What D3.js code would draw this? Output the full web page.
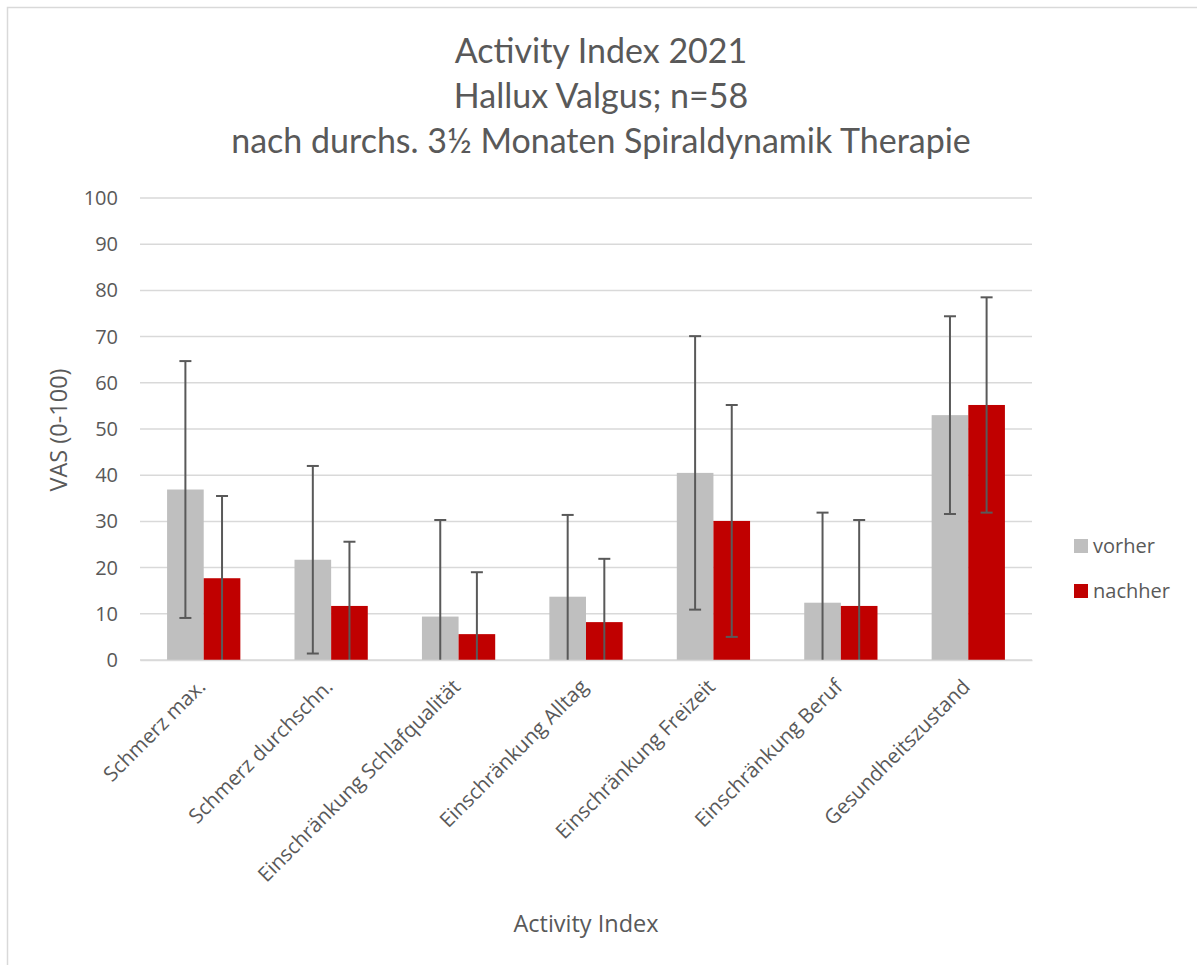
<!DOCTYPE html>
<html>
<head>
<meta charset="utf-8">
<script src="https://cdn.jsdelivr.net/npm/d3@7"></script>
<style>
  body { margin: 0; background: #fff; }
  svg text { fill: #595959; }
  .axis text { font-family: "Open Sans", sans-serif; font-size: 20px; }
  .xlabels text { font-size: 20.5px; }
  .title { font-family: Lato, "Open Sans", sans-serif; font-size: 34px; }
  .axis-title { font-family: "Open Sans", sans-serif; font-size: 23.5px; }
</style>
</head>
<body>
<div id="chart"></div>
<script>
// data
var categories = ['Schmerz max.', 'Schmerz durchschn.', 'Einschränkung Schlafqualität',
  'Einschränkung Alltag', 'Einschränkung Freizeit', 'Einschränkung Beruf', 'Gesundheitszustand'];
var seriesNames = ['vorher', 'nachher'];
var vorher = [36.9, 21.7, 9.4, 13.7, 40.5, 12.4, 53.0];
var vorherSD = [27.8, 20.3, 20.9, 17.7, 29.6, 19.5, 21.4];
var nachher = [17.7, 11.7, 5.6, 8.2, 30.1, 11.7, 55.2];
var nachherSD = [17.8, 13.9, 13.4, 13.7, 25.1, 18.6, 23.3];
var yTicks = [0, 10, 20, 30, 40, 50, 60, 70, 80, 90, 100];
var titleLines = ['Activity Index 2021', 'Hallux Valgus; n=58', 'nach durchs. 3½ Monaten Spiraldynamik Therapie'];
var colors = { vorher: '#bfbfbf', nachher: '#c00000' };

var W = 1197, H = 965;
var margin = { top: 198, right: 165, bottom: 305, left: 140 };
var width = W - margin.left - margin.right;
var height = H - margin.top - margin.bottom;

var svg = d3.select('#chart').append('svg')
  .attr('width', W)
  .attr('height', H);

// chart border
svg.append('rect')
  .attr('x', 7.5).attr('y', 7.5)
  .attr('width', W + 20).attr('height', H + 20)
  .attr('fill', 'none')
  .attr('stroke', '#d9d9d9')
  .attr('stroke-width', 1.5);

// title
svg.append('g').selectAll('text')
  .data(titleLines)
  .enter().append('text')
  .attr('class', 'title')
  .attr('x', 601)
  .attr('y', function(d, i) { return 63 + i * 45; })
  .attr('text-anchor', 'middle')
  .text(function(d) { return d; });

var g = svg.append('g').attr('transform', 'translate(' + margin.left + ',' + margin.top + ')');

var x0 = d3.scaleBand().domain(categories).range([0, width])
  .paddingInner(0.425).paddingOuter(0.2125);
var x1 = d3.scaleBand().domain(seriesNames).range([0, x0.bandwidth()]);
var y = d3.scaleLinear().domain([0, 100]).range([height, 0]).clamp(true);

// gridlines
g.append('g').selectAll('line')
  .data(yTicks)
  .enter().append('line')
  .attr('x1', 0).attr('x2', width)
  .attr('y1', function(d) { return y(d); })
  .attr('y2', function(d) { return y(d); })
  .attr('stroke', '#d9d9d9')
  .attr('stroke-width', 1.5);

// y axis labels
var yAxis = d3.axisLeft(y).tickValues(yTicks).tickSize(0).tickPadding(22);
g.append('g').attr('class', 'axis').call(yAxis)
  .call(function(s) { s.select('.domain').remove(); });

// bars
var rows = categories.map(function(c, i) {
  return [
    { cat: c, key: 'vorher', value: vorher[i], sd: vorherSD[i] },
    { cat: c, key: 'nachher', value: nachher[i], sd: nachherSD[i] }
  ];
});
var groups = g.append('g').selectAll('g')
  .data(rows)
  .enter().append('g')
  .attr('transform', function(d) { return 'translate(' + x0(d[0].cat) + ',0)'; });

groups.selectAll('rect')
  .data(function(d) { return d; })
  .enter().append('rect')
  .attr('x', function(d) { return x1(d.key); })
  .attr('width', x1.bandwidth())
  .attr('y', function(d) { return y(d.value); })
  .attr('height', function(d) { return height - y(d.value); })
  .attr('fill', function(d) { return colors[d.key]; });

// error bars (standard deviation, clipped at 0)
var eb = groups.selectAll('g.err')
  .data(function(d) { return d; })
  .enter().append('g').attr('class', 'err')
  .attr('stroke', '#595959')
  .attr('stroke-width', 2);
var cx = function(d) { return x1(d.key) + x1.bandwidth() / 2; };
eb.append('line')
  .attr('x1', cx).attr('x2', cx)
  .attr('y1', function(d) { return y(d.value + d.sd); })
  .attr('y2', function(d) { return y(d.value - d.sd); });
eb.append('line')
  .attr('x1', function(d) { return cx(d) - 6; })
  .attr('x2', function(d) { return cx(d) + 6; })
  .attr('y1', function(d) { return y(d.value + d.sd); })
  .attr('y2', function(d) { return y(d.value + d.sd); });
eb.filter(function(d) { return d.value - d.sd >= 0; }).append('line')
  .attr('x1', function(d) { return cx(d) - 6; })
  .attr('x2', function(d) { return cx(d) + 6; })
  .attr('y1', function(d) { return y(d.value - d.sd); })
  .attr('y2', function(d) { return y(d.value - d.sd); });

// x axis
var xAxis = d3.axisBottom(x0).tickSize(0).tickPadding(0);
var xg = g.append('g').attr('class', 'axis xlabels')
  .attr('transform', 'translate(0,' + height + ')')
  .call(xAxis);
xg.select('.domain').attr('stroke', '#d9d9d9').attr('stroke-width', 1.5);
xg.selectAll('text')
  .attr('text-anchor', 'end')
  .attr('dy', null)
  .attr('y', 0)
  .attr('transform', 'translate(3,28) rotate(-45)');

// axis titles
svg.append('text')
  .attr('class', 'axis-title')
  .attr('transform', 'translate(67,430) rotate(-90)')
  .attr('text-anchor', 'middle')
  .text('VAS (0-100)');
svg.append('text')
  .attr('class', 'axis-title')
  .attr('x', margin.left + width / 2)
  .attr('y', 932)
  .attr('text-anchor', 'middle')
  .text('Activity Index');

// legend
var legend = svg.append('g').selectAll('g')
  .data(seriesNames)
  .enter().append('g')
  .attr('transform', function(d, i) { return 'translate(1074,' + (539 + i * 45) + ')'; });
legend.append('rect')
  .attr('width', 14).attr('height', 14)
  .attr('fill', function(d) { return colors[d]; });
legend.append('text')
  .attr('x', 19).attr('y', 14)
  .style('font-family', 'Open Sans, sans-serif')
  .style('font-size', '20px')
  .text(function(d) { return d; });
</script>
</body>
</html>
